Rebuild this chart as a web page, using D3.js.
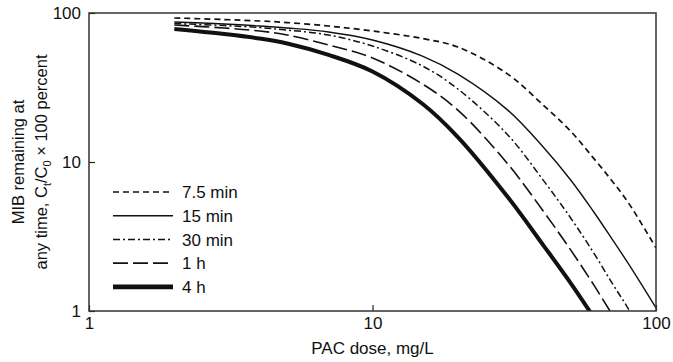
<!DOCTYPE html>
<html>
<head>
<meta charset="utf-8">
<script src="https://cdn.jsdelivr.net/npm/d3@7"></script>
<style>
  body { margin: 0; background: #fff; }
  svg text { font-family: "Liberation Sans", Arial, sans-serif; fill: #111; }
</style>
</head>
<body>
<svg id="chart" width="673" height="362"></svg>
<script>
// PAC dose (mg/L) at which each curve was read
const doses = [2, 3, 4, 5, 7, 10, 15, 20, 30, 40, 50, 60, 70, 80, 100];

// MIB remaining (percent) per contact time; null = off the bottom of the plot
const mib75min = [92.6, 90.4, 88.4, 86.3, 81.8, 75.7, 67.4, 59.1, 38.9, 24.1, 16.1, 10.7, 7.46, 5.31, 2.65];
const mib15min = [87.0, 84.4, 81.8, 79.3, 74.6, 65.9, 51.4, 38.9, 22.3, 12.6, 7.57, 4.69, 3.04, 2.07, 1.05];
const mib30min = [85.0, 82.4, 79.9, 76.9, 71.2, 60.0, 44.1, 30.9, 15.2, 7.56, 4.21, 2.49, 1.54, 1.03, 0.5];
const mib1h = [83.0, 79.3, 75.7, 71.2, 61.0, 49.9, 33.4, 22.3, 9.7, 4.69, 2.57, 1.52, 0.95, 0.64, null];
const mib4h = [78.1, 72.3, 67.4, 62.4, 52.3, 40.5, 24.6, 14.7, 5.82, 2.77, 1.54, 0.92, null, null, null];

const seriesNames = ["7.5 min", "15 min", "30 min", "1 h", "4 h"];
const seriesValues = [mib75min, mib15min, mib30min, mib1h, mib4h];

const xTicks = [1, 10, 100];
const yTicks = [1, 10, 100];

// line styles per series
const styles = [
  { width: 1.7, dash: "6,4" },
  { width: 1.4, dash: null },
  { width: 1.5, dash: "7,3,2,3" },
  { width: 1.6, dash: "15,5" },
  { width: 4, dash: null },
];

const margin = { left: 89, right: 17, top: 13, bottom: 51 };
const width = 673 - margin.left - margin.right;
const height = 362 - margin.top - margin.bottom;

const svg = d3.select("#chart");
const g = svg.append("g").attr("transform", `translate(${margin.left},${margin.top})`);

const x = d3.scaleLog().domain([1, 100]).range([0, width]);
const y = d3.scaleLog().domain([1, 100]).range([height, 0]);

g.append("clipPath").attr("id", "clip")
  .append("rect").attr("width", width).attr("height", height);

// curves
const line = d3.line()
  .x((d) => x(d[0]))
  .y((d) => y(d[1]))
  .curve(d3.curveCatmullRom.alpha(0.5));

seriesValues.forEach((vals, i) => {
  const pts = doses.map((d, j) => [d, vals[j]]).filter((p) => p[1] != null);
  g.append("path")
    .attr("clip-path", "url(#clip)")
    .attr("d", line(pts))
    .attr("fill", "none")
    .attr("stroke", "#111")
    .attr("stroke-width", styles[i].width)
    .attr("stroke-dasharray", styles[i].dash);
});

// axes with inward ticks
const xAxis = g.append("g")
  .attr("transform", `translate(0,${height})`)
  .call(d3.axisBottom(x).tickValues(xTicks).tickFormat(d3.format("d")).tickSizeInner(-6).tickSizeOuter(0).tickPadding(6));
const yAxis = g.append("g")
  .call(d3.axisLeft(y).tickValues(yTicks).tickFormat(d3.format("d")).tickSizeInner(-6).tickSizeOuter(0).tickPadding(8));

[xAxis, yAxis].forEach((a) => {
  a.select(".domain").remove();
  a.selectAll("line").attr("stroke", "#222").attr("stroke-width", 1.2);
  a.selectAll("text").attr("font-size", 17).style("fill", "#111");
});
xAxis.selectAll("text").attr("y", 18).attr("dy", 0);
yAxis.selectAll("text").attr("dy", "0.35em");

// frame
g.append("rect")
  .attr("width", width).attr("height", height)
  .attr("fill", "none").attr("stroke", "#333").attr("stroke-width", 1.5);

// legend
const legend = g.append("g").attr("transform", "translate(24,179)");
seriesNames.forEach((name, i) => {
  const row = legend.append("g").attr("transform", `translate(0,${i * 23.7})`);
  row.append("line")
    .attr("x1", 0).attr("x2", 60)
    .attr("stroke", "#111")
    .attr("stroke-width", styles[i].width + (i == 4 ? 0.8 : 0))
    .attr("stroke-dasharray", styles[i].dash);
  row.append("text")
    .attr("x", 69).attr("dy", "0.36em")
    .attr("font-size", 17)
    .text(name);
});

// axis titles
svg.append("text")
  .attr("x", margin.left + width / 2).attr("y", 354)
  .attr("text-anchor", "middle").attr("font-size", 17)
  .text("PAC dose, mg/L");

const yTitle = svg.append("text")
  .attr("transform", `translate(24,${margin.top + height / 2}) rotate(-90)`)
  .attr("text-anchor", "middle").attr("font-size", 16.5);
yTitle.append("tspan").attr("x", 0).attr("dy", 0).text("MIB remaining at");
const l2 = yTitle.append("tspan").attr("x", 0).attr("dy", 23);
l2.append("tspan").text("any time, C");
l2.append("tspan").attr("font-size", 11).attr("dy", 4).text("t");
l2.append("tspan").attr("dy", -4).text("/C");
l2.append("tspan").attr("font-size", 11).attr("dy", 4).text("0");
l2.append("tspan").attr("dy", -4).text(" × 100 percent");
</script>
</body>
</html>
